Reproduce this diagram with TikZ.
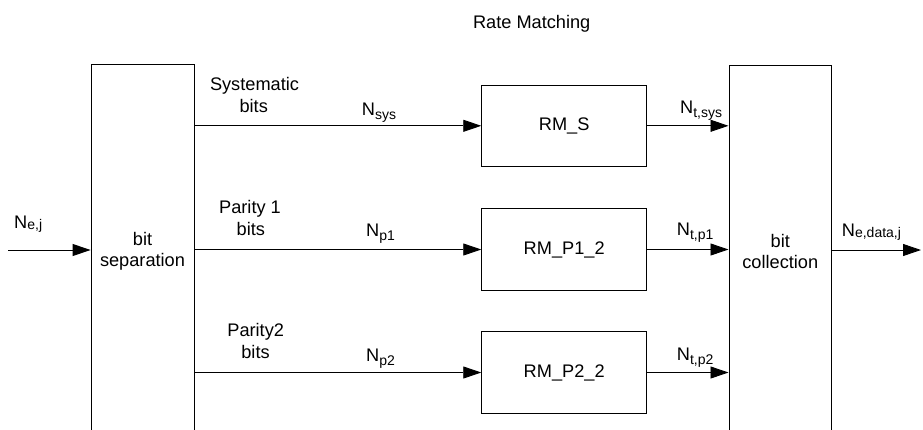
\documentclass[tikz,border=0pt]{standalone}
\usepackage{fontspec}
\setmainfont{Liberation Sans}
\usetikzlibrary{arrows.meta}
\newcommand{\Nsub}[2][4]{N\raisebox{-#1pt}{\fontsize{14}{14}\selectfont #2}}
\begin{document}
\begin{tikzpicture}[x=1pt,y=-1pt,
  box/.style={draw, line width=0.9pt, inner sep=0pt, align=center, font=\fontsize{18.2}{21}\selectfont},
  lbl/.style={anchor=base, inner sep=0pt, font=\fontsize{18.2}{21}\selectfont},
  nlbl/.style={anchor=base west, inner sep=0pt, font=\fontsize{18.2}{21}\selectfont},
  flow/.style={line width=0.9pt, -{Triangle[length=18pt,width=12pt]}}]
\useasboundingbox (0,0) rectangle (923,429);
\clip (0,0) rectangle (923,429);
% boxes
\node[box, minimum width=103, minimum height=374] (sep) at (142.5,251) {bit\\separation};
\node[box, minimum width=102.7, minimum height=372] (col) at (780.3,251) {bit\\collection};
\node[box, minimum width=165, minimum height=81.7] (rms) at (564.2,125.8) {RM\_S};
\node[box, minimum width=165, minimum height=82.4] (rmp1) at (564.2,249.5) {RM\_P1\_2};
\node[box, minimum width=165, minimum height=81.6] (rmp2) at (564.2,372.5) {RM\_P2\_2};
% connectors
\coordinate (in) at (8,250);
\coordinate (out) at (921,250);
\draw[flow] (in) -- (in -| sep.west);
\draw[flow] (sep.east |- rms.west) -- (rms.west);
\draw[flow] (sep.east |- rmp1.west) -- (rmp1.west);
\draw[flow] (sep.east |- rmp2.west) -- (rmp2.west);
\draw[flow] (rms.east) -- (rms.east -| col.west);
\draw[flow] (rmp1.east) -- (rmp1.east -| col.west);
\draw[flow] (rmp2.east) -- (rmp2.east -| col.west);
\draw[flow] (out -| col.east) -- (out);
% labels
\node[lbl] (title) at (531.7,28) {Rate Matching};
\node[lbl] (sysA) at (254.5,90) {Systematic};
\node[lbl] (sysB) at (253.7,112.5) {bits};
\node[nlbl] (nsys) at (361.7,115) {\Nsub{sys}};
\node[lbl] (p1A) at (250,213.3) {Parity 1};
\node[lbl] (p1B) at (250.8,235) {bits};
\node[nlbl] (np1) at (366,236.7) {\Nsub{p1}};
\node[lbl] (p2A) at (255.7,336.7) {Parity2};
\node[lbl] (p2B) at (255.5,358.3) {bits};
\node[nlbl] (np2) at (366,361.7) {\Nsub{p2}};
\node[nlbl] (ntsys) at (680,113.3) {\Nsub{t,sys}};
\node[nlbl] (ntp1) at (676.7,235) {\Nsub{t,p1}};
\node[nlbl] (ntp2) at (676.7,360.7) {\Nsub{t,p2}};
\node[nlbl] (nout) at (841.7,236) {\Nsub[1.5]{e,data,j}};
\node[nlbl] (nin) at (14,228.3) {\Nsub[1.5]{e,j}};
\end{tikzpicture}
\end{document}
